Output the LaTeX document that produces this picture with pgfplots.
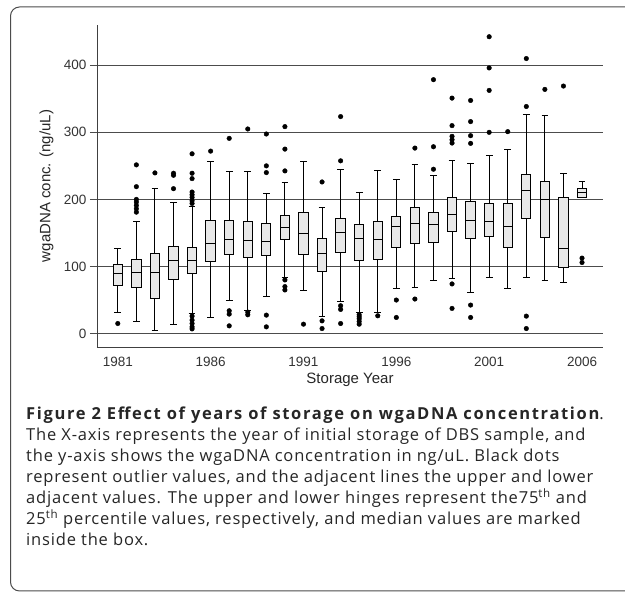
\documentclass[border=0pt]{standalone}
\usepackage{fontspec}
\setmainfont{Liberation Sans}
\newfontfamily\capfont[LetterSpace=5]{Open Sans}
\newfontfamily\capfontb[LetterSpace=10]{Open Sans}
\usepackage{pgfplots}
\pgfplotsset{compat=1.18}
\usepgfplotslibrary{statistics}
\begin{document}
\begin{tikzpicture}
\useasboundingbox (0pt,0pt) rectangle (625pt,593pt);
\fill[white] (0pt,0pt) rectangle (625pt,593pt);
\begin{scope}
\clip (0pt,0pt) rectangle (625pt,593pt);
\draw[black!70, line width=1pt, rounded corners=9pt] (10.5pt,2pt) rectangle (700pt,586pt);
\end{scope}
\begin{axis}[
  at={(97pt,246pt)}, anchor=south west, scale only axis,
  width=506pt, height=322pt,
  xmin=-1.12, xmax=26.13, ymin=-20, ymax=460,
  axis lines*=left,
  axis line style={draw=black!75, line width=0.8pt},
  xtick={0,5,10,15,20,25},
  xticklabels={1981,1986,1991,1996,2001,2006},
  ytick={0,100,200,300,400},
  /pgf/number format/assume math mode=true,
  tick label style={font=\fontsize{13.5}{14}\selectfont, text=black!80},
  ymajorgrids,
  grid style={black!70, line width=0.8pt},
  tick align=outside, major tick length=7pt,
  xtick style={draw=none},
  ytick style={black!70, line width=0.8pt},
  xlabel={Storage Year}, ylabel={wgaDNA conc. (ng/uL)},
  label style={font=\fontsize{15}{15}\selectfont, text=black!85},
  xlabel style={at={(axis description cs:0.5,-0.112)}, anchor=base},
  ylabel style={at={(axis description cs:-0.1,0.5)}, anchor=center},
  boxplot/draw direction=y,
  boxplot/box extend=0.5,
  boxplot/whisker extend=0.36,
  boxplot/every box/.style={draw=black, fill=black!9, line width=1pt},
  boxplot/every whisker/.style={draw=black, line width=1pt},
  boxplot/every median/.style={draw=black, line width=1pt},
  every axis plot/.append style={black, mark=*, mark size=2.3pt, mark options={fill=black, draw=black}},
]
\addplot[boxplot prepared={draw position=0, lower whisker=31.5, lower quartile=71.5, median=90, upper quartile=102.5, upper whisker=127.5}] table[row sep=\\, y index=0] {y\\ 15\\};
\addplot[boxplot prepared={draw position=1, lower whisker=17.5, lower quartile=68.5, median=91, upper quartile=111, upper whisker=167.5}] table[row sep=\\, y index=0] {y\\ 251.5\\ 219\\ 200\\ 196\\ 191\\ 186\\ 181\\};
\addplot[boxplot prepared={draw position=2, lower whisker=5, lower quartile=52.5, median=91, upper quartile=120, upper whisker=216.5}] table[row sep=\\, y index=0] {y\\ 239.5\\};
\addplot[boxplot prepared={draw position=3, lower whisker=14, lower quartile=80, median=109, upper quartile=130, upper whisker=196}] table[row sep=\\, y index=0] {y\\ 239\\ 236\\ 216\\};
\addplot[boxplot prepared={draw position=4, lower whisker=30, lower quartile=90, median=109, upper quartile=128.5, upper whisker=190}] table[row sep=\\, y index=0] {y\\ 268\\ 239\\ 231\\ 211\\ 207\\ 203\\ 198\\ 194\\ 26\\ 20\\ 15\\ 10\\ 7\\};
\addplot[boxplot prepared={draw position=5, lower whisker=23.5, lower quartile=107.5, median=134, upper quartile=168.5, upper whisker=256}] table[row sep=\\, y index=0] {y\\ 272\\};
\addplot[boxplot prepared={draw position=6, lower whisker=50, lower quartile=118.5, median=140, upper quartile=168.5, upper whisker=241.5}] table[row sep=\\, y index=0] {y\\ 291\\ 34\\ 29\\ 11.5\\};
\addplot[boxplot prepared={draw position=7, lower whisker=35, lower quartile=113.5, median=139, upper quartile=167.5, upper whisker=241.5}] table[row sep=\\, y index=0] {y\\ 305\\ 32\\ 28\\};
\addplot[boxplot prepared={draw position=8, lower whisker=56, lower quartile=116, median=137.5, upper quartile=163.5, upper whisker=209}] table[row sep=\\, y index=0] {y\\ 297.5\\ 250\\ 240\\ 27.5\\ 10\\};
\addplot[boxplot prepared={draw position=9, lower whisker=84, lower quartile=140, median=157.5, upper quartile=176, upper whisker=225}] table[row sep=\\, y index=0] {y\\ 308.5\\ 275\\ 242.5\\ 80\\ 70\\ 65\\};
\addplot[boxplot prepared={draw position=10, lower whisker=63.5, lower quartile=117.5, median=149, upper quartile=180, upper whisker=256}] table[row sep=\\, y index=0] {y\\ 14\\};
\addplot[boxplot prepared={draw position=11, lower whisker=25, lower quartile=92.5, median=119, upper quartile=141.5, upper whisker=187.5}] table[row sep=\\, y index=0] {y\\ 226\\ 19\\ 7.5\\};
\addplot[boxplot prepared={draw position=12, lower whisker=47.5, lower quartile=121.5, median=151, upper quartile=171.5, upper whisker=244}] table[row sep=\\, y index=0] {y\\ 323.5\\ 257.5\\ 41.5\\ 36\\ 15\\};
\addplot[boxplot prepared={draw position=13, lower whisker=31, lower quartile=108.5, median=141, upper quartile=162.5, upper whisker=210}] table[row sep=\\, y index=0] {y\\ 28\\ 25\\ 22\\ 18\\ 14\\};
\addplot[boxplot prepared={draw position=14, lower whisker=31.5, lower quartile=111, median=140, upper quartile=167.5, upper whisker=242.5}] table[row sep=\\, y index=0] {y\\ 26.5\\};
\addplot[boxplot prepared={draw position=15, lower whisker=67.5, lower quartile=129, median=159, upper quartile=174, upper whisker=230}] table[row sep=\\, y index=0] {y\\ 50\\ 24\\};
\addplot[boxplot prepared={draw position=16, lower whisker=68.5, lower quartile=134, median=164, upper quartile=187.5, upper whisker=251.5}] table[row sep=\\, y index=0] {y\\ 276.5\\ 51.5\\};
\addplot[boxplot prepared={draw position=17, lower whisker=78.5, lower quartile=136, median=162.5, upper quartile=180, upper whisker=235}] table[row sep=\\, y index=0] {y\\ 378.5\\ 278.5\\ 245\\};
\addplot[boxplot prepared={draw position=18, lower whisker=82.5, lower quartile=152.5, median=177.5, upper quartile=202.5, upper whisker=257.5}] table[row sep=\\, y index=0] {y\\ 351\\ 310\\ 294\\ 289\\ 284\\ 74\\ 37.5\\};
\addplot[boxplot prepared={draw position=19, lower whisker=61, lower quartile=141, median=168.5, upper quartile=197.5, upper whisker=253.5}] table[row sep=\\, y index=0] {y\\ 347.5\\ 316\\ 295\\ 283.5\\ 42.5\\ 24\\};
\addplot[boxplot prepared={draw position=20, lower whisker=84, lower quartile=145, median=167.5, upper quartile=194, upper whisker=266}] table[row sep=\\, y index=0] {y\\ 442.5\\ 396\\ 362.5\\ 300\\};
\addplot[boxplot prepared={draw position=21, lower whisker=66.5, lower quartile=128.5, median=159, upper quartile=193.5, upper whisker=274}] table[row sep=\\, y index=0] {y\\ 301\\};
\addplot[boxplot prepared={draw position=22, lower whisker=84, lower quartile=171.5, median=213.5, upper quartile=237.5, upper whisker=326}] table[row sep=\\, y index=0] {y\\ 410\\ 338.5\\ 26\\ 7.5\\};
\addplot[boxplot prepared={draw position=23, lower whisker=78.5, lower quartile=142.5, median=200, upper quartile=226, upper whisker=325}] table[row sep=\\, y index=0] {y\\ 364\\};
\addplot[boxplot prepared={draw position=24, lower whisker=76.5, lower quartile=99, median=126.5, upper quartile=203.5, upper whisker=238.5}] table[row sep=\\, y index=0] {y\\ 369\\};
\addplot[boxplot prepared={draw position=25, lower whisker=203.5, lower quartile=203.5, median=211, upper quartile=216.5, upper whisker=226}] table[row sep=\\, y index=0] {y\\ 112.5\\ 106\\};
\end{axis}
\begin{scope}[every node/.style={anchor=base west, inner sep=0pt, font=\capfont\fontsize{16.5}{16.5}\selectfont, text=black!85}]
\node at (26pt,173pt) {{\capfontb\bfseries Figure 2 Effect of years of storage on wgaDNA concentration}.};
\node at (26pt,152pt) {The X-axis represents the year of initial storage of DBS sample, and};
\node at (26pt,131pt) {the y-axis shows the wgaDNA concentration in ng/uL. Black dots};
\node at (26pt,110pt) {represent outlier values, and the adjacent lines the upper and lower};
\node at (26pt,89pt) {adjacent values. The upper and lower hinges represent the75\textsuperscript{th} and};
\node at (26pt,68pt) {25\textsuperscript{th} percentile values, respectively, and median values are marked};
\node at (26pt,47pt) {inside the box.};
\end{scope}
\end{tikzpicture}
\end{document}
